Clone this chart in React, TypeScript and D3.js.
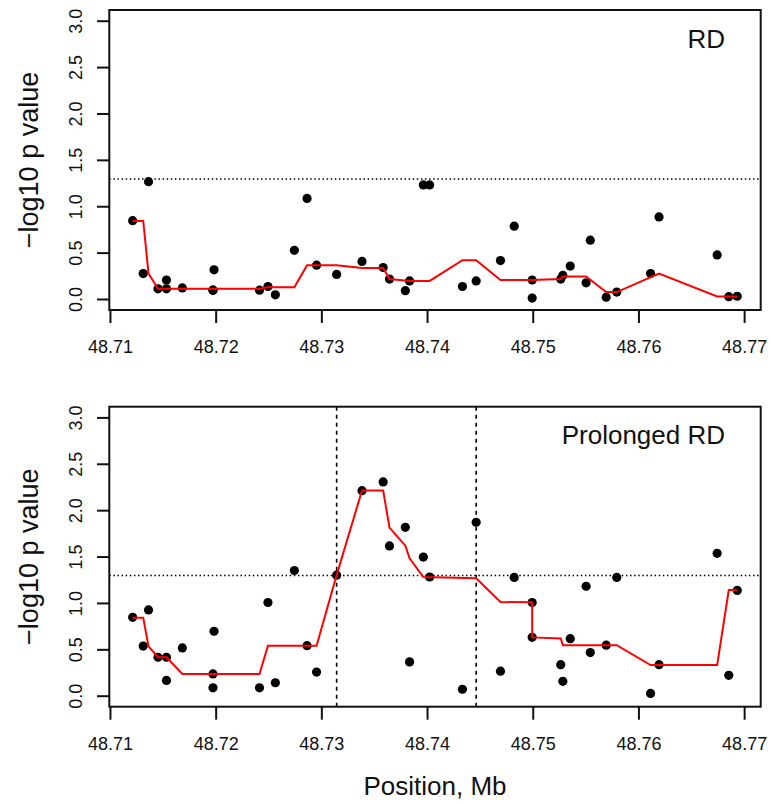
import React from "react";
import * as d3 from "d3";

// SNP positions (Mb), shared by both panels
const positions = [
  48.7121, 48.7131, 48.7136, 48.7145, 48.7153, 48.7153, 48.7168, 48.7197, 48.7197, 48.7198,
  48.7241, 48.7249, 48.7256, 48.7274, 48.7286, 48.7295, 48.7314, 48.7338, 48.7358, 48.7364,
  48.7379, 48.7383, 48.7396, 48.7402, 48.7433, 48.7446, 48.7469, 48.7482, 48.7499, 48.7499,
  48.7526, 48.7528, 48.7535, 48.755, 48.7554, 48.7569, 48.7579, 48.7611, 48.7619, 48.7674,
  48.7685, 48.7693,
];

// -log10 p, RD
const rdValues = [
  0.85, 0.28, 1.27, 0.115, 0.115, 0.21, 0.125, 0.1, 0.1, 0.32,
  0.1, 0.14, 0.05, 0.53, 1.09, 0.37, 0.27, 0.41, 0.345, 0.22,
  0.095, 0.2, 1.235, 1.235, 0.14, 0.2, 0.42, 0.79, 0.21, 0.015,
  0.22, 0.26, 0.36, 0.18, 0.64, 0.025, 0.08, 0.28, 0.89, 0.48,
  0.03, 0.035,
];

// -log10 p, prolonged RD
const prolongedValues = [
  0.85, 0.54, 0.93, 0.42, 0.42, 0.17, 0.52, 0.24, 0.09, 0.7,
  0.09, 1.01, 0.145, 1.355, 0.545, 0.26, 1.305, 2.215, 2.31, 1.62,
  1.82, 0.37, 1.5, 1.285, 0.075, 1.875, 0.27, 1.28, 1.01, 0.635,
  0.34, 0.16, 0.62, 1.185, 0.47, 0.55, 1.28, 0.03, 0.34, 1.54,
  0.225, 1.14,
];

// smoothed (red) line vertices
const rdLinePos = [
  48.7121, 48.7131, 48.7136, 48.7145, 48.7241, 48.7249, 48.7274, 48.7286, 48.7314, 48.7338,
  48.7358, 48.7364, 48.7383, 48.7402, 48.7433, 48.7446, 48.7469, 48.7499, 48.7526, 48.7528,
  48.755, 48.7569, 48.7579, 48.7619, 48.7674, 48.7693,
];
const rdLineVals = [
  0.847, 0.847, 0.28, 0.115, 0.115, 0.133, 0.133, 0.37, 0.37, 0.34,
  0.34, 0.22, 0.2, 0.2, 0.424, 0.424, 0.21, 0.21, 0.22, 0.248,
  0.248, 0.08, 0.08, 0.28, 0.032, 0.032,
];

const prolongedLinePos = [
  48.7121, 48.7131, 48.7136, 48.7145, 48.7153, 48.7168, 48.7241, 48.7249, 48.7295, 48.7314,
  48.7338, 48.7358, 48.7364, 48.7379, 48.7383, 48.7396, 48.7446, 48.7469, 48.7499, 48.7499,
  48.7526, 48.7528, 48.7579, 48.7611, 48.7674, 48.7685, 48.7693,
];
const prolongedLineVals = [
  0.846, 0.846, 0.537, 0.42, 0.42, 0.24, 0.24, 0.543, 0.543, 1.307,
  2.217, 2.217, 1.817, 1.623, 1.487, 1.285, 1.271, 1.015, 1.012, 0.634,
  0.623, 0.55, 0.55, 0.335, 0.335, 1.145, 1.145,
];

const xTicks = [48.71, 48.72, 48.73, 48.74, 48.75, 48.76, 48.77];
const yTicks = [0, 0.5, 1, 1.5, 2, 2.5, 3];
const threshold = 1.3;
const regionBounds = [48.7314, 48.7446];

const font = "'Liberation Sans', Arial, Helvetica, sans-serif";
const boxLeft = 109.3;
const boxRight = 760.7;
const boxH = 300;

const x = d3.scaleLinear().domain([48.70989, 48.77152]).range([boxLeft, boxRight]);
const y = d3.scaleLinear().domain([0, 3]).range([289.5, 11.2]);

function Panel({ top, values, linePos, lineVals, label, bounds }) {
  const line = d3
    .line<number>()
    .x((d, i) => x(linePos[i]))
    .y((d) => y(d));
  return (
    <g transform={`translate(0, ${top})`}>
      {/* threshold */}
      <line
        x1={boxLeft}
        x2={boxRight}
        y1={y(threshold)}
        y2={y(threshold)}
        stroke="#000"
        strokeWidth={1.5}
        strokeDasharray="1.5,2.6"
      />
      {bounds &&
        bounds.map((b, i) => (
          <line
            key={i}
            x1={x(b)}
            x2={x(b)}
            y1={0}
            y2={boxH}
            stroke="#000"
            strokeWidth={1.6}
            strokeDasharray="4,4"
          />
        ))}
      {values.map((v, i) => (
        <circle key={i} cx={x(positions[i])} cy={y(v)} r={4.6} fill="#000" />
      ))}
      <path d={line(lineVals) || ""} fill="none" stroke="#ff0000" strokeWidth={2} />
      <rect x={boxLeft} y={0} width={boxRight - boxLeft} height={boxH} fill="none" stroke="#111" strokeWidth={2} />

      {/* y axis */}
      {yTicks.map((t) => (
        <g key={t}>
          <line x1={97} x2={boxLeft} y1={y(t)} y2={y(t)} stroke="#111" strokeWidth={2} />
          <text
            transform={`translate(82, ${y(t)}) rotate(-90)`}
            textAnchor="middle"
            fontSize={18}
            fontFamily={font}
            fill="#111"
          >
            {t.toFixed(1)}
          </text>
        </g>
      ))}
      <text
        transform={`translate(38, ${boxH / 2}) rotate(-90)`}
        textAnchor="middle"
        fontSize={27}
        fontFamily={font}
        fill="#111"
      >
        −log10 p value
      </text>

      {/* x axis */}
      {xTicks.map((t) => (
        <g key={t}>
          <line x1={x(t)} x2={x(t)} y1={boxH} y2={boxH + 13} stroke="#111" strokeWidth={2} />
          <text x={x(t)} y={boxH + 43} textAnchor="middle" fontSize={18} fontFamily={font} fill="#111">
            {t.toFixed(2)}
          </text>
        </g>
      ))}

      <text x={725} y={37.5} textAnchor="end" fontSize={26} fontFamily={font} fill="#111">
        {label}
      </text>
    </g>
  );
}

export default function App() {
  return (
    <div style={{ position: "absolute", left: 0, top: 0 }}>
      <svg width={770} height={804} style={{ display: "block", background: "#fff" }}>
        <Panel top={10} values={rdValues} linePos={rdLinePos} lineVals={rdLineVals} label="RD" bounds={null} />
        <Panel
          top={406.7}
          values={prolongedValues}
          linePos={prolongedLinePos}
          lineVals={prolongedLineVals}
          label="Prolonged RD"
          bounds={regionBounds}
        />
        <text x={(boxLeft + boxRight) / 2} y={795} textAnchor="middle" fontSize={26} fontFamily={font} fill="#111">
          Position, Mb
        </text>
      </svg>
    </div>
  );
}
